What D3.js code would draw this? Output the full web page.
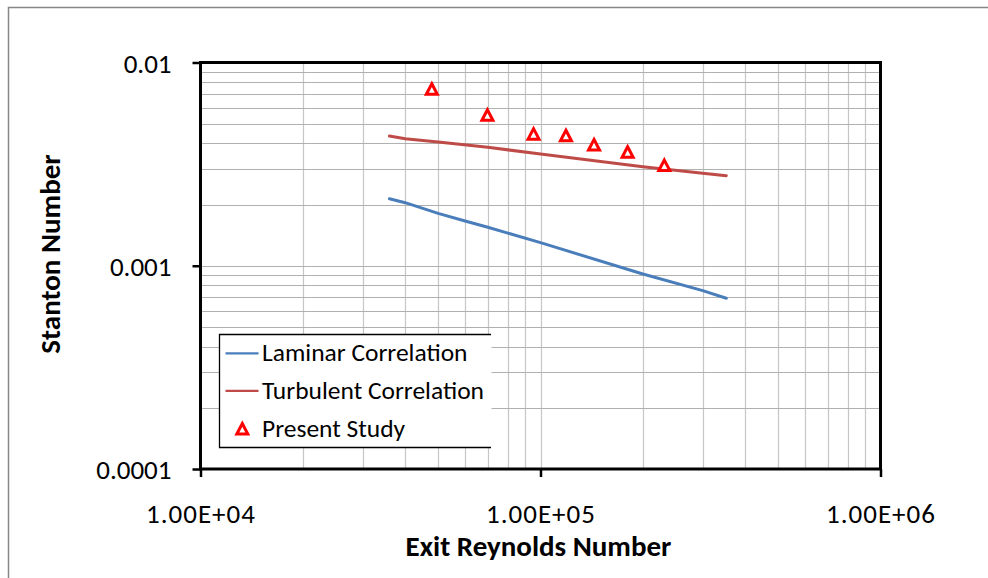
<!DOCTYPE html>
<html>
<head>
<meta charset="utf-8">
<script src="https://cdn.jsdelivr.net/npm/d3@7"></script>
<style>
  body { margin: 0; background: #fff; }
  svg { display: block; font-family: Carlito, Calibri, Lato, sans-serif; }
</style>
</head>
<body>
<svg id="chart" width="988" height="578"></svg>
<script>
// data
const laminarRe = [35950, 40000, 50000, 60000, 70000, 100000, 200000, 300000, 352000];
const laminarSt = [0.002137, 0.002043, 0.001811, 0.001660, 0.001546, 0.001299, 0.000911, 0.000754, 0.000692];
const turbulentRe = [35950, 40000, 50000, 70000, 100000, 200000, 300000, 352000];
const turbulentSt = [0.004348, 0.004217, 0.004063, 0.003826, 0.003547, 0.003072, 0.002850, 0.002773];
const studyRe = [47900, 69800, 95400, 118800, 143700, 180400, 231300];
const studySt = [0.00739, 0.00550, 0.00444, 0.00436, 0.00393, 0.00362, 0.00311];

const xTicks = [1e4, 1e5, 1e6];
const xTickLabels = ["1.00E+04", "1.00E+05", "1.00E+06"];
const yTicks = [1e-4, 1e-3, 1e-2];
const yTickLabels = ["0.0001", "0.001", "0.01"];
const legendNames = ["Laminar Correlation", "Turbulent Correlation", "Present Study"];

const svg = d3.select("#chart");
const plotLeft = 200.5, plotRight = 880.5, plotTop = 62.5, plotBottom = 469;

// outer chart frame (cut off at right and bottom like the original)
svg.append("rect")
   .attr("x", 8.5).attr("y", 7.5)
   .attr("width", 1100).attr("height", 700)
   .attr("fill", "none")
   .attr("stroke", "#878787")
   .attr("stroke-width", 1.5);

let x = d3.scaleLog().domain([1e4, 1e6]).range([plotLeft, plotRight]);
let y = d3.scaleLog().domain([1e-4, 1e-2]).range([plotBottom, plotTop]);

// grid lines: every 1..9 step of each decade
let xGrid = [], yGrid = [];
[1e4, 1e5].forEach(dec => { for (let k = 1; k < 10; k++) xGrid.push(dec * k); });
[1e-4, 1e-3].forEach(dec => { for (let k = 1; k < 10; k++) yGrid.push(dec * k); });
xGrid = xGrid.filter(v => v > 1e4);
yGrid = yGrid.filter(v => v > 1e-4);

let grid = svg.append("g").attr("class", "grid");
grid.selectAll(".vline")
    .data(xGrid)
    .enter().append("line")
    .attr("class", "vline")
    .attr("x1", d => Math.round(x(d)) + 0.5).attr("x2", d => Math.round(x(d)) + 0.5)
    .attr("y1", plotTop).attr("y2", plotBottom)
    .attr("stroke", "#c6c6c6")
    .attr("stroke-width", 1.2);
grid.selectAll(".hline")
    .data(yGrid)
    .enter().append("line")
    .attr("class", "hline")
    .attr("x1", plotLeft).attr("x2", plotRight)
    .attr("y1", d => Math.round(y(d)) + 0.5).attr("y2", d => Math.round(y(d)) + 0.5)
    .attr("stroke", "#b0b0b0")
    .attr("stroke-width", 1.2);

// plot border
svg.append("rect")
   .attr("x", plotLeft).attr("y", plotTop)
   .attr("width", plotRight - plotLeft).attr("height", plotBottom - plotTop)
   .attr("fill", "none")
   .attr("stroke", "#000")
   .attr("stroke-width", 3);

// axes (drop d3's default sans-serif so the labels use the page font)
let xAxis = svg.append("g")
   .attr("transform", "translate(0," + plotBottom + ")")
   .call(d3.axisBottom(x).tickValues(xTicks).tickFormat((d, i) => xTickLabels[i]).tickSize(8).tickSizeOuter(0))
   .attr("font-family", null).attr("font-size", null);
xAxis.select(".domain").remove();
xAxis.selectAll("line").attr("stroke", "#000").attr("stroke-width", 2.5);
xAxis.selectAll("text")
     .attr("y", 54).attr("dy", null)
     .attr("fill", "#000")
     .style("font-size", "27px")
     .style("letter-spacing", "1px");

let yAxis = svg.append("g")
   .attr("transform", "translate(" + plotLeft + ",0)")
   .call(d3.axisLeft(y).tickValues(yTicks).tickFormat((d, i) => yTickLabels[i]).tickSize(8).tickSizeOuter(0))
   .attr("font-family", null).attr("font-size", null);
yAxis.select(".domain").remove();
yAxis.selectAll("line").attr("stroke", "#000").attr("stroke-width", 2.5);
yAxis.selectAll("text")
     .attr("x", -29).attr("dy", null).attr("y", 9.5)
     .attr("fill", "#000")
     .style("font-size", "27px");

// axis titles
svg.append("text")
   .attr("x", 538.5).attr("y", 556)
   .attr("text-anchor", "middle")
   .style("font-size", "29px")
   .style("font-weight", "bold")
   .text("Exit Reynolds Number");
svg.append("text")
   .attr("transform", "translate(60,254) rotate(-90)")
   .attr("text-anchor", "middle")
   .style("font-size", "29px")
   .style("font-weight", "bold")
   .text("Stanton Number");

// series lines
let line = d3.line()
  .x(d => x(d.re))
  .y(d => y(d.st));
const laminar = laminarRe.map((re, i) => ({ re: re, st: laminarSt[i] }));
const turbulent = turbulentRe.map((re, i) => ({ re: re, st: turbulentSt[i] }));
const study = studyRe.map((re, i) => ({ re: re, st: studySt[i] }));

svg.append("path")
   .datum(laminar)
   .attr("d", line)
   .attr("fill", "none")
   .attr("stroke", "#4a7ebb")
   .attr("stroke-width", 3)
   .attr("stroke-linecap", "round");
svg.append("path")
   .datum(turbulent)
   .attr("d", line)
   .attr("fill", "none")
   .attr("stroke", "#be4b48")
   .attr("stroke-width", 3)
   .attr("stroke-linecap", "round");

// triangle markers
const tri = "M0,-5.5L5.5,5L-5.5,5Z";
svg.selectAll(".marker")
   .data(study)
   .enter().append("path")
   .attr("class", "marker")
   .attr("d", tri)
   .attr("transform", d => "translate(" + x(d.re) + "," + y(d.st) + ")")
   .attr("fill", "#fff")
   .attr("stroke", "#ff0000")
   .attr("stroke-width", 3)
   .attr("stroke-linejoin", "miter");

// legend (right edge clipped in the original, so no right border)
let lg = svg.append("g");
lg.append("rect")
  .attr("x", 219.5).attr("y", 334.5)
  .attr("width", 272).attr("height", 113)
  .attr("fill", "#fff");
lg.append("path")
  .attr("d", "M491,334.5H219.5V447.5H491")
  .attr("fill", "none")
  .attr("stroke", "#000")
  .attr("stroke-width", 1.3);
const rowY = [353.3, 390.8, 429];
lg.append("line")
  .attr("x1", 225.5).attr("x2", 258.5).attr("y1", rowY[0]).attr("y2", rowY[0])
  .attr("stroke", "#4a7ebb").attr("stroke-width", 2.2);
lg.append("line")
  .attr("x1", 225.5).attr("x2", 258.5).attr("y1", rowY[1]).attr("y2", rowY[1])
  .attr("stroke", "#be4b48").attr("stroke-width", 2.2);
lg.append("path")
  .attr("d", tri)
  .attr("transform", "translate(242.3," + rowY[2] + ")")
  .attr("fill", "#fff")
  .attr("stroke", "#ff0000")
  .attr("stroke-width", 3);
lg.selectAll(".lgtext")
  .data(legendNames)
  .enter().append("text")
  .attr("class", "lgtext")
  .attr("x", 262)
  .attr("y", (d, i) => rowY[i] + 8)
  .style("font-size", "25.5px")
  .attr("fill", "#000")
  .text(d => d);
</script>
</body>
</html>
